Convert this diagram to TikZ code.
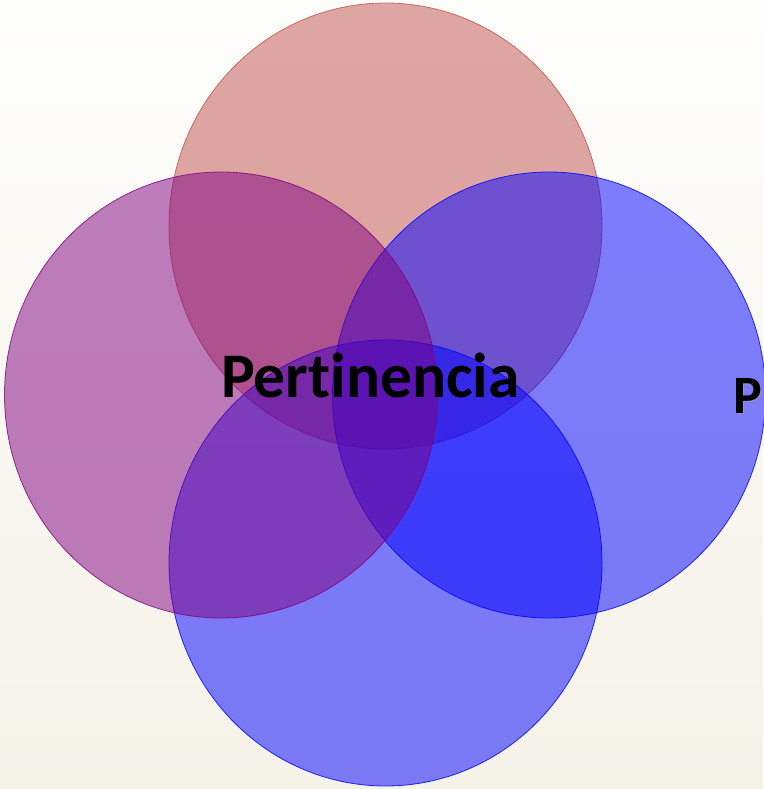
\documentclass[tikz,border=0pt]{standalone}
\usepackage{fontspec}
\setmainfont[Ligatures={NoCommon}]{Carlito}
\usetikzlibrary{shapes.geometric}
\definecolor{cred}{RGB}{192,80,77}
\definecolor{cpurple}{RGB}{128,0,128}
\definecolor{cblue}{RGB}{0,0,255}
\definecolor{bgtop}{RGB}{253,253,251}
\definecolor{bgbot}{RGB}{245,242,232}
\tikzset{
  venn/.style={ellipse, inner sep=0pt, minimum width=433pt, minimum height=446pt,
    fill opacity=0.5, draw opacity=0.8, line width=0.8pt},
  lbl/.style={font=\bfseries, text=black, inner sep=0pt, anchor=base west}
}
\begin{document}
\begin{tikzpicture}[x=1pt,y=-1pt]
\shade[top color=bgtop, bottom color=bgbot] (0,0) rectangle (763,789);
\useasboundingbox (0,0) rectangle (763,789);
\node[venn, fill=cred, draw=cred] (top) at (385.5,226) {};
\node[venn, fill=cblue, draw=cblue] (bottom) at (385.5,563) {};
\node[venn, fill=cblue, draw=cblue] (right) at (549,395) {};
\node[venn, fill=cpurple, draw=cpurple] (left) at (221,395) {};
\node[lbl, font=\bfseries\fontsize{63.5}{70}\selectfont] (pert) at (221,397) {Pertinencia};
\node[lbl, font=\bfseries\fontsize{54}{60}\selectfont, text=black!35, opacity=0.6] (pshadow) at (734.5,414.5) {P};
\node[lbl, font=\bfseries\fontsize{54}{60}\selectfont] (p) at (733,413) {P};
\end{tikzpicture}
\end{document}
